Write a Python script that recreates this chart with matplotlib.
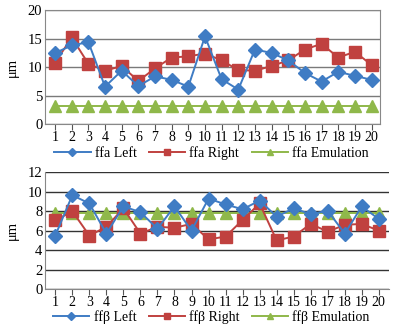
import numpy as np
import matplotlib
matplotlib.use('Agg')
import matplotlib.pyplot as plt

plt.rcParams['font.family'] = ['Liberation Serif', 'DejaVu Serif']

points = list(range(1, 21))

# ffa (top panel)
ffa_left = [12.5, 13.8, 14.4, 6.6, 9.4, 6.7, 8.4, 7.8, 6.6, 15.4,
            7.9, 6.1, 13.1, 12.5, 11.2, 9.0, 7.5, 9.2, 8.5, 7.8]
ffa_right = [10.8, 15.2, 10.6, 9.4, 10.2, 7.6, 9.8, 11.7, 11.9, 12.4,
             11.2, 9.5, 9.4, 10.2, 11.2, 13.1, 14.1, 11.7, 12.7, 10.4]
ffa_emul = [3.2] * 20

# ffβ (bottom panel)
ffb_left = [5.5, 9.65, 8.8, 5.7, 8.5, 7.9, 6.2, 8.5, 6.0, 9.3,
            8.7, 8.2, 9.1, 7.45, 8.3, 7.7, 8.05, 5.7, 8.5, 7.2]
ffb_right = [7.05, 8.0, 5.5, 6.4, 8.3, 5.7, 6.4, 6.3, 6.7, 5.1,
             5.4, 7.1, 8.8, 5.0, 5.4, 6.7, 5.9, 6.6, 6.7, 6.0]
ffb_emul = [7.8] * 20

blue = '#3f7cc4'
red = '#c0413f'
green = '#8fb84a'

fig = plt.figure(figsize=(3.99, 3.24), dpi=100)

ax1 = fig.add_axes([0.113, 0.616, 0.839, 0.353])
ax2 = fig.add_axes([0.113, 0.108, 0.862, 0.360])


def draw(ax, left, right, emul, name, grid_color, ylim, yticks, xlim):
    ax.plot(points, emul, color=green, lw=1.4, marker='^', ms=8.5,
            mec=green, label=name + ' Emulation', zorder=3)
    ax.plot(points, right, color=red, lw=1.4, marker='s', ms=8.5,
            mec=red, label=name + ' Right', zorder=4)
    ax.plot(points, left, color=blue, lw=1.4, marker='D', ms=7.5,
            mec=blue, label=name + ' Left', zorder=5)
    ax.set_ylim(*ylim)
    ax.set_yticks(yticks)
    ax.set_xlim(*xlim)
    ax.set_xticks(points)
    ax.yaxis.grid(True, color=grid_color, lw=1.0)
    ax.set_axisbelow(True)
    ax.tick_params(axis='both', labelsize=10.5, length=0, pad=2)
    ax.tick_params(axis='x', labelsize=10, length=4, direction='out',
                   color='#555555', pad=1)
    ax.set_ylabel('μm', fontsize=10.5, labelpad=6)


draw(ax1, ffa_left, ffa_right, ffa_emul, 'ffa', '#7a7a7a', (0, 20),
     [0, 5, 10, 15, 20], (0.4, 20.5))
for s in ax1.spines.values():
    s.set_color('#888888')

draw(ax2, ffb_left, ffb_right, ffb_emul, 'ffβ', '#333333', (0, 12),
     [0, 2, 4, 6, 8, 10, 12], (0.4, 20.6))
ax2.spines['top'].set_visible(False)
ax2.spines['right'].set_visible(False)
ax2.spines['left'].set_color('#888888')
ax2.spines['bottom'].set_color('#888888')


def add_legend(ax, y):
    h, l = ax.get_legend_handles_labels()
    order = [2, 1, 0]
    leg = fig.legend([h[i] for i in order], [l[i] for i in order],
                     loc='center', bbox_to_anchor=(0.53, y), ncol=3,
                     frameon=False, fontsize=10, handlelength=2.6,
                     columnspacing=0.9, handletextpad=0.3,
                     markerscale=0.5, borderaxespad=0, borderpad=0)
    return leg


add_legend(ax1, 0.527)
add_legend(ax2, 0.022)

fig.savefig('out.png', dpi=100)
